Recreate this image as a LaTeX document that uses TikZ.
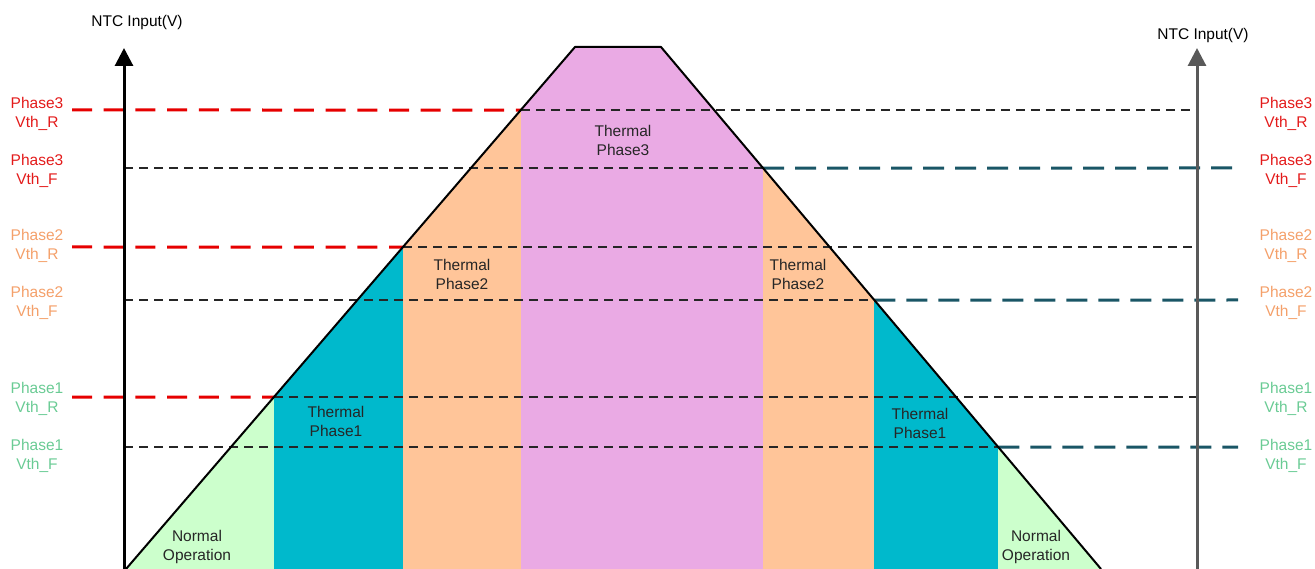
\documentclass[tikz,border=0pt]{standalone}
\usepackage{fontspec}
\setmainfont{Liberation Sans}
\usetikzlibrary{arrows.meta}
\definecolor{normalgreen}{HTML}{CCFFCC}
\definecolor{phaseoneteal}{HTML}{00B9CC}
\definecolor{phasetwopeach}{HTML}{FFC599}
\definecolor{phasethreepink}{HTML}{EAAAE4}
\definecolor{risered}{HTML}{E60000}
\definecolor{fallteal}{HTML}{1A5666}
\definecolor{lblred}{HTML}{E31A1A}
\definecolor{lblpeach}{HTML}{F4A06A}
\definecolor{lblgreen}{HTML}{6ACB94}
\definecolor{axisgray}{HTML}{595959}

\begin{document}
\begin{tikzpicture}[x=1pt,y=-1pt,
	txt/.style={align=center,inner sep=0pt,font=\fontsize{15.5}{19}\selectfont},
	zone/.style={txt,text=black!85},
	risedash/.style={risered,line width=3pt,dash pattern=on 20pt off 11.7pt},
	falldash/.style={fallteal,line width=3pt,dash pattern=on 21pt off 11pt},
	level/.style={black!85,line width=1.2pt,dash pattern=on 9pt off 6pt},
	axis/.style={line width=3pt,-{Triangle[width=18pt,length=18pt]}}]
	\useasboundingbox (0,0) rectangle (1315,569);
	\coordinate (bl) at (126,569);
	\coordinate (tl) at (575,47);
	\coordinate (tr) at (661,47);
	\coordinate (br) at (1101,569);
	\coordinate (p1r) at (intersection of bl--tl and 0,397--1,397);
	\coordinate (p2r) at (intersection of bl--tl and 0,247--1,247);
	\coordinate (p3r) at (intersection of bl--tl and 0,110--1,110);
	\coordinate (p3f) at (intersection of tr--br and 0,168--1,168);
	\coordinate (p2f) at (intersection of tr--br and 0,300--1,300);
	\coordinate (p1f) at (intersection of tr--br and 0,447--1,447);
	\begin{scope}
		\clip (bl) -- (tl) -- (tr) -- (br) -- cycle;
		\fill[normalgreen] (0,0) rectangle (1315,569);
		\fill[phaseoneteal] (p1r |- 0,0) rectangle (p1f |- 0,569);
		\fill[phasetwopeach] (p2r |- 0,0) rectangle (p2f |- 0,569);
		\fill[phasethreepink] (p3r |- 0,0) rectangle (p3f |- 0,569);
	\end{scope}
	\coordinate (axL0) at (124,569);
	\coordinate (axL1) at (124,48);
	\coordinate (axR0) at (1197,569);
	\coordinate (axR1) at (1197,48);
	\draw[risedash] (72,110) -- (p3r);
	\draw[risedash] (72,247) -- (p2r);
	\draw[risedash] (72,397) -- (p1r);
	\draw[level] (p3r) -- (axR1 |- p3r);
	\draw[level] (p2r) -- (axR1 |- p2r);
	\draw[level] (p1r) -- (axR1 |- p1r);
	\draw[level] (axL1 |- p3f) -- (p3f);
	\draw[level] (axL1 |- p2f) -- (p2f);
	\draw[level] (axL1 |- p1f) -- (p1f);
	\draw[falldash] (p3f) -- (1243,168);
	\draw[falldash] (p2f) -- (1238,300);
	\draw[falldash] (p1f) -- (1238,447);
	\draw[line width=2pt,line join=round] (bl) -- (tl) -- (tr) -- (br);
	\draw[axis] (axL0) -- (axL1);
	\draw[axis,axisgray] (axR0) -- (axR1);
	\node[txt] (ytitleL) at (137,22) {NTC Input(V)};
	\node[txt] (ytitleR) at (1203,35) {NTC Input(V)};
	\node[txt,text=lblred] (lp3r) at (37,114) {Phase3\\Vth\_R};
	\node[txt,text=lblred] (lp3f) at (37,171) {Phase3\\Vth\_F};
	\node[txt,text=lblpeach] (lp2r) at (37,246) {Phase2\\Vth\_R};
	\node[txt,text=lblpeach] (lp2f) at (37,303) {Phase2\\Vth\_F};
	\node[txt,text=lblgreen] (lp1r) at (37,399) {Phase1\\Vth\_R};
	\node[txt,text=lblgreen] (lp1f) at (37,456) {Phase1\\Vth\_F};
	\node[txt,text=lblred] (rp3r) at (1286,114) {Phase3\\Vth\_R};
	\node[txt,text=lblred] (rp3f) at (1286,171) {Phase3\\Vth\_F};
	\node[txt,text=lblpeach] (rp2r) at (1286,246) {Phase2\\Vth\_R};
	\node[txt,text=lblpeach] (rp2f) at (1286,303) {Phase2\\Vth\_F};
	\node[txt,text=lblgreen] (rp1r) at (1286,399) {Phase1\\Vth\_R};
	\node[txt,text=lblgreen] (rp1f) at (1286,456) {Phase1\\Vth\_F};
	\node[zone] (zp3) at (623,140) {Thermal\\Phase3};
	\node[zone] (zp2L) at (462,274) {Thermal\\Phase2};
	\node[zone] (zp2R) at (798,274) {Thermal\\Phase2};
	\node[zone] (zp1L) at (336,421) {Thermal\\Phase1};
	\node[zone] (zp1R) at (920,423) {Thermal\\Phase1};
	\node[zone] (znL) at (197,547) {Normal\\Operation};
	\node[zone] (znR) at (1036,547) {Normal\\Operation};
\end{tikzpicture}
\end{document}
